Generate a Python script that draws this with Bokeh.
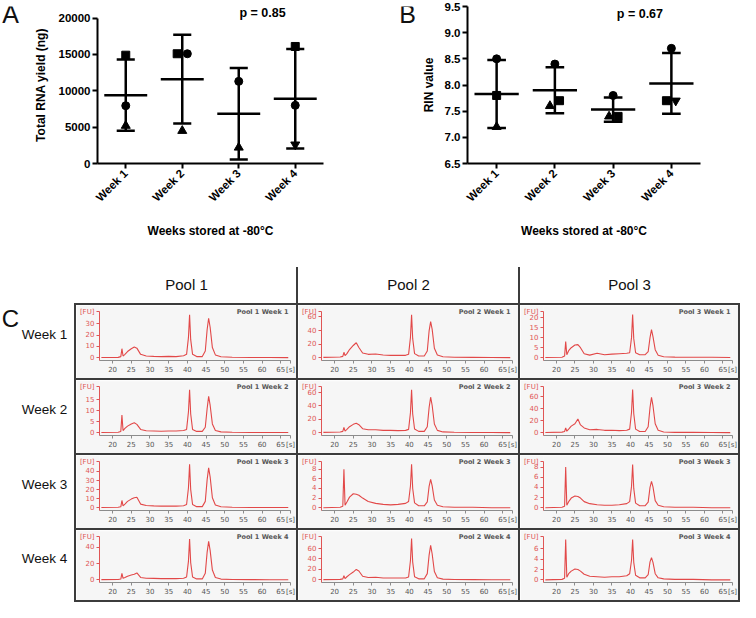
import numpy as np
from bokeh.plotting import figure
from bokeh.models import Range1d, FixedTicker, Label, Spacer, ColumnDataSource, PrintfTickFormatter
from bokeh.layouts import row, column
from bokeh.embed import file_html
from bokeh.resources import INLINE

# ---------------- data ----------------
WEEKS = ["Week 1", "Week 2", "Week 3", "Week 4"]
POOLS = ["Pool 1", "Pool 2", "Pool 3"]
WEEK_X = [1, 2, 3, 4]

A_CIRCLE = [7950, 15100, 11300, 8000]
A_SQUARE = [14900, 15100, np.nan, 16100]
A_TRIANGLE = [5200, 4500, 2200, 2600]
A_MEAN = [9400, 11600, 6850, 8900]
A_SD = [4900, 6100, 6300, 6850]
A_YTICKS = [0, 5000, 10000, 15000, 20000]
A_P = "p = 0.85"

B_CIRCLE = [8.5, 8.4, 7.8, 8.7]
B_SQUARE = [7.8, 7.7, 7.4, 7.7]
B_TRIANGLE = [7.2, 7.6, 7.4, 7.7]
B_MEAN = [7.83, 7.90, 7.53, 8.03]
B_SD = [0.65, 0.44, 0.23, 0.58]
B_YTICKS = [6.5, 7.0, 7.5, 8.0, 8.5, 9.0, 9.5]
B_P = "p = 0.67"

TIME_S = [17, 21.5, 22.2, 22.5, 22.8, 23.3, 24, 25, 25.8, 26.5, 27.5, 29, 31, 33, 35, 37, 39,
          39.8, 40.3, 40.6, 40.9, 41.4, 42.5, 44, 44.8, 45.3, 45.7, 46.1, 46.7, 47.5, 49, 52, 57, 62, 67]
X_TICKS = [20, 25, 30, 35, 40, 45, 50, 55, 60, 65]
X_UNIT = "[s]"
Y_UNIT = "[FU]"

FU_P1_W1 = [0.2, 0.3, 1.0, 8.0, 1.5, 3.0, 5.5, 8.0, 9.5, 8.5, 3.0, 1.5, 1.2, 1.0, 1.2, 1.0, 1.8, 3.0, 18, 38, 16, 3.0, 1.0, 1.0, 6.0, 25, 35, 27, 9.0, 2.5, 0.8, 0.4, 0.2, 0.2, 0.1]
FU_P2_W1 = [0.5, 1.0, 2.0, 8.0, 3.0, 6.0, 12, 18, 22, 15, 7.0, 5.0, 5.5, 4.0, 3.5, 3.5, 3.5, 5.0, 30, 63, 28, 6.0, 2.5, 2.5, 10, 40, 53, 42, 14, 4.0, 1.5, 0.8, 0.5, 0.3, 0.2]
FU_P3_W1 = [0.1, 0.2, 0.8, 8.0, 1.5, 3.5, 5.0, 6.3, 6.5, 5.0, 2.0, 1.3, 2.2, 1.5, 1.8, 2.0, 2.2, 2.5, 10, 21.5, 9.5, 2.5, 1.5, 1.5, 3.0, 10, 14, 10.5, 4.0, 1.2, 0.5, 0.3, 0.2, 0.2, 0.1]
FU_P1_W2 = [0.1, 0.2, 0.6, 8.0, 1.0, 2.0, 3.0, 4.0, 4.5, 3.8, 1.5, 0.9, 0.8, 0.7, 0.8, 0.8, 1.0, 1.5, 9.5, 19.5, 8.5, 1.5, 0.6, 0.6, 2.5, 11, 16.5, 12.5, 4.0, 1.0, 0.4, 0.2, 0.1, 0.1, 0.1]
FU_P2_W2 = [0.5, 1.0, 2.0, 8.0, 2.5, 5.0, 9.0, 12.5, 14, 12, 6.0, 4.5, 4.5, 3.5, 3.5, 3.2, 3.5, 5.0, 30, 64, 28, 5.5, 2.0, 2.0, 9.0, 38, 53, 41, 13, 3.5, 1.2, 0.6, 0.4, 0.3, 0.2]
FU_P3_W2 = [0.5, 1.0, 2.0, 8.0, 2.5, 6.0, 11, 15, 23, 13, 8.0, 5.0, 5.5, 4.0, 4.0, 3.5, 4.0, 6.0, 34, 72, 32, 6.0, 2.0, 2.0, 10, 42, 59, 45, 15, 4.0, 1.2, 0.6, 0.8, 0.3, 0.2]
FU_P1_W3 = [0.2, 0.5, 1.0, 8.0, 2.0, 4.0, 7.0, 9.5, 11, 11.5, 4.0, 2.5, 2.0, 1.8, 1.8, 1.8, 2.2, 3.5, 22, 48, 20, 3.5, 1.2, 1.2, 7.0, 31, 44, 34, 11, 3.0, 1.0, 0.5, 0.3, 0.2, 0.2]
FU_P2_W3 = [0.0, 0.1, 0.3, 8.0, 0.5, 1.2, 2.2, 2.9, 2.8, 2.6, 2.0, 1.3, 0.9, 0.7, 0.6, 0.7, 0.9, 1.3, 4.5, 9.0, 4.0, 1.0, 0.4, 0.4, 1.2, 4.5, 5.9, 4.6, 1.6, 0.5, 0.2, 0.1, 0.1, 0.0, 0.0]
FU_P3_W3 = [0.0, 0.1, 0.3, 8.0, 0.5, 1.2, 1.9, 2.3, 2.2, 1.9, 1.2, 0.8, 0.6, 0.5, 0.5, 0.6, 0.8, 1.2, 4.2, 8.5, 3.8, 0.9, 0.4, 0.4, 1.1, 4.0, 5.2, 4.1, 1.4, 0.5, 0.2, 0.1, 0.1, 0.0, 0.0]
FU_P1_W4 = [0.3, 0.5, 1.0, 8.0, 2.0, 3.0, 4.5, 6.0, 7.0, 8.5, 3.0, 2.0, 1.8, 1.5, 1.5, 1.5, 2.0, 3.5, 23, 50, 21, 3.5, 1.2, 1.2, 8.0, 34, 47, 36, 12, 3.0, 1.0, 0.5, 0.3, 0.2, 0.2]
FU_P2_W4 = [0.5, 1.0, 2.0, 8.0, 2.5, 6.0, 10, 15, 20, 17, 7.0, 4.5, 5.0, 3.5, 3.5, 3.5, 3.5, 5.5, 37, 79, 34, 6.0, 2.0, 2.0, 12, 48, 66, 50, 16, 4.0, 1.5, 0.7, 0.5, 0.3, 0.2]
FU_P3_W4 = [0.0, 0.1, 0.3, 7.8, 0.5, 1.2, 1.7, 2.1, 2.0, 1.7, 1.1, 0.7, 0.6, 0.5, 0.6, 0.6, 0.8, 1.2, 3.8, 7.8, 3.4, 0.9, 0.4, 0.4, 1.0, 3.5, 4.3, 3.4, 1.2, 0.4, 0.2, 0.1, 0.1, 0.0, 0.0]

FU_TICKS_P1 = [[0, 10, 20, 30], [0, 5, 10, 15], [0, 10, 20, 30, 40], [0, 20, 40]]
FU_TICKS_P2 = [[0, 20, 40, 60], [0, 20, 40, 60], [0, 2, 4, 6, 8], [0, 20, 40, 60]]
FU_TICKS_P3 = [[0, 5, 10, 15, 20], [0, 20, 40, 60], [0, 2, 4, 6, 8], [0, 2, 4, 6]]

# ---------------- style ----------------
TRI_MARKERS = ["triangle", "triangle", "triangle", "inverted_triangle"]
A_JITTER = {"circle": [0, 0.09, 0, 0], "square": [0, -0.09, 0, 0], "triangle": [0, 0, 0, 0]}
B_JITTER = {"circle": [0, 0, 0, 0], "square": [0, 0.08, 0.085, -0.085], "triangle": [0, -0.085, -0.07, 0.075]}
FU_TOP_P1 = [41, 21, 51, 53]
FU_TOP_P2 = [68, 69, 9.6, 83]
FU_TOP_P3 = [23, 77, 9.1, 8.4]
X_END = 67.6

FONT = "Liberation Sans"
RED = "#e05555"
TRACE = "#e24848"
GRID = "#3c3c3c"
CELL_BG = "#f6f6f6"

TRACES = {
    ("Pool 1", 0): FU_P1_W1, ("Pool 2", 0): FU_P2_W1, ("Pool 3", 0): FU_P3_W1,
    ("Pool 1", 1): FU_P1_W2, ("Pool 2", 1): FU_P2_W2, ("Pool 3", 1): FU_P3_W2,
    ("Pool 1", 2): FU_P1_W3, ("Pool 2", 2): FU_P2_W3, ("Pool 3", 2): FU_P3_W3,
    ("Pool 1", 3): FU_P1_W4, ("Pool 2", 3): FU_P2_W4, ("Pool 3", 3): FU_P3_W4,
}
TICKS = {"Pool 1": FU_TICKS_P1, "Pool 2": FU_TICKS_P2, "Pool 3": FU_TICKS_P3}
TOPS = {"Pool 1": FU_TOP_P1, "Pool 2": FU_TOP_P2, "Pool 3": FU_TOP_P3}


def text_fig(w, h, items):
    p = figure(width=w, height=h, x_range=Range1d(0, w), y_range=Range1d(0, h),
               output_backend="svg", toolbar_location=None, x_axis_type=None, y_axis_type=None,
               min_border=0, outline_line_color=None)
    p.grid.visible = False
    for (tx, ty, txt, size) in items:
        p.add_layout(Label(x=tx, y=ty, text=txt, text_align="center", text_baseline="middle",
                           text_font=FONT, text_font_size=size, text_color="#111111"))
    return p


def dot_panel(width, left, right, top, bottom, yr, ybounds, yticks, ytitle, circle, square, tri,
              mean, sd, jit, ptext, p_x, p_y, p_yoff, fmt=None, lab_stand=10):
    p = figure(width=width, height=240, x_range=Range1d(0.5, 4.5), y_range=yr,
               output_backend="svg", toolbar_location=None,
               min_border_left=left, min_border_right=right, min_border_top=top,
               min_border_bottom=bottom, outline_line_color=None)
    p.grid.visible = False
    x = np.array(WEEK_X, dtype=float)
    m = np.array(mean, dtype=float)
    s = np.array(sd, dtype=float)
    kw = dict(line_color="black", line_width=2.5)
    p.segment(x0=x, y0=m - s, x1=x, y1=m + s, **kw)
    p.segment(x0=x - 0.16, y0=m + s, x1=x + 0.16, y1=m + s, **kw)
    p.segment(x0=x - 0.16, y0=m - s, x1=x + 0.16, y1=m - s, **kw)
    p.segment(x0=x - 0.38, y0=m, x1=x + 0.38, y1=m, **kw)
    p.scatter(x + np.array(jit["circle"]), circle, marker="circle", size=8, color="black")
    p.scatter(x + np.array(jit["square"]), square, marker="square", size=8, color="black")
    src = ColumnDataSource(dict(x=x + np.array(jit["triangle"]), y=tri, mk=TRI_MARKERS))
    p.scatter("x", "y", marker="mk", size=9, color="black", source=src)

    for ax in (p.xaxis[0], p.yaxis[0]):
        ax.axis_line_width = 2
        ax.major_tick_line_width = 2
        ax.major_tick_out = 5
        ax.major_tick_in = 0
        ax.minor_tick_line_color = None
        ax.major_label_text_font = FONT
        ax.major_label_text_font_style = "bold"
        ax.major_label_text_font_size = "11.5px"
        ax.major_label_text_color = "black"
        ax.axis_label_text_font = FONT
        ax.axis_label_text_font_style = "bold"
        ax.axis_label_text_font_size = "12px"
        ax.axis_label_text_color = "black"
    xa = p.xaxis[0]
    xa.ticker = FixedTicker(ticks=WEEK_X)
    xa.major_label_overrides = {wx: w for wx, w in zip(WEEK_X, WEEKS)}
    xa.major_label_orientation = np.pi / 4
    xa.major_label_standoff = 3
    xa.axis_label = "Weeks stored at -80°C"
    xa.axis_label_standoff = 13
    ya = p.yaxis[0]
    ya.ticker = FixedTicker(ticks=yticks)
    ya.bounds = ybounds
    ya.major_label_standoff = 2
    ya.axis_label = ytitle
    ya.axis_label_standoff = lab_stand
    if fmt is not None:
        ya.formatter = fmt
    p.add_layout(Label(x=p_x, y=p_y, y_offset=p_yoff, text=ptext, text_align="center",
                       text_baseline="middle", text_font=FONT, text_font_style="bold",
                       text_font_size="12.5px", text_color="black"))
    return p


pA = dot_panel(348, 75, 47, 6, 72, Range1d(0, 21600), (0, 20000), A_YTICKS, "Total RNA yield (ng)",
               A_CIRCLE, A_SQUARE, A_TRIANGLE, A_MEAN, A_SD, A_JITTER, A_P, 3.42, 20000, 4.7,
               lab_stand=8)
pB = dot_panel(322, 46, 40, 5, 76, Range1d(6.5, 9.5), (6.5, 9.5), B_YTICKS, "RIN value",
               B_CIRCLE, B_SQUARE, B_TRIANGLE, B_MEAN, B_SD, B_JITTER, B_P, 3.46, 9.5, -7.7,
               fmt=PrintfTickFormatter(format="%.1f"), lab_stand=6)
letterA = text_fig(22, 240, [(10, 228, "A", "25px")])
letterB = text_fig(48, 240, [(37, 228, "B", "25px")])


def trace_panel(w, h, fu, ticks, top, title):
    frame_h = h - 1 - 18
    span = 1.06 * top
    ystart = -0.06 * top
    yend = top + 5 * span / (frame_h - 5)
    yr = Range1d(ystart, yend)
    p = figure(width=w, height=h, x_range=Range1d(16.5, X_END), y_range=yr,
               output_backend="svg", toolbar_location=None,
               min_border_left=22, min_border_right=6, min_border_top=1, min_border_bottom=18,
               background_fill_color=CELL_BG, border_fill_color=CELL_BG, outline_line_color=None)
    p.grid.visible = False
    p.line(TIME_S, fu, line_color=TRACE, line_width=1.1)
    xa = p.xaxis[0]
    ya = p.yaxis[0]
    xa.ticker = FixedTicker(ticks=X_TICKS + [X_END])
    xa.major_label_overrides = {X_END: X_UNIT}
    ya.ticker = FixedTicker(ticks=list(ticks) + [top])
    ya.major_label_overrides = {top: Y_UNIT}
    ya.bounds = (ystart, top)
    for ax in (xa, ya):
        ax.major_tick_out = 3
        ax.major_tick_in = 0
        ax.minor_tick_line_color = None
        ax.major_label_standoff = 2
        ax.major_label_text_font = "DejaVu Sans"
        ax.major_label_text_font_size = "7px"
    xa.axis_line_color = "#8c8c8c"
    xa.major_tick_line_color = "#8c8c8c"
    xa.major_label_text_color = "#555555"
    ya.axis_line_color = RED
    ya.major_tick_line_color = RED
    ya.major_label_text_color = RED
    p.add_layout(Label(x=X_END, y=yend, x_offset=-2, y_offset=-1, text=title, text_align="right",
                       text_baseline="top", text_font="DejaVu Sans", text_font_style="bold",
                       text_font_size="6.5px", text_color="#555555"))
    return p


def bar(w, h):
    return Spacer(width=w, height=h, styles={"background-color": GRID})


LEFT_W = 74
CELL_W = [220, 220, 218]
ROW_H = [73, 73, 73, 70]
HEAD_H = 63
GRID_W = 2 + CELL_W[0] + 2 + CELL_W[1] + 2 + CELL_W[2] + 2

hdr1 = text_fig(2 + CELL_W[0], HEAD_H, [(2 + CELL_W[0] / 2, 19, POOLS[0], "15px")])
hdr2 = text_fig(CELL_W[1], HEAD_H, [(CELL_W[1] / 2, 19, POOLS[1], "15px")])
hdr3 = text_fig(CELL_W[2] + 2, HEAD_H, [(CELL_W[2] / 2, 19, POOLS[2], "15px")])


def head_sep():
    return column(Spacer(width=2, height=27), bar(2, HEAD_H - 27))


header = row(Spacer(width=LEFT_W, height=HEAD_H), hdr1, head_sep(), hdr2, head_sep(), hdr3)


def hline():
    return row(Spacer(width=LEFT_W, height=2), bar(GRID_W, 2))


rows = [header, hline()]
for wi, week in enumerate(WEEKS):
    h = ROW_H[wi]
    items = [(44, h / 2 - 2, week, "13.5px")]
    if wi == 0:
        items.append((10, h - 16, "C", "24px"))
    left = text_fig(LEFT_W, h, items)
    cells = []
    for pi, pool in enumerate(POOLS):
        cells.append(trace_panel(CELL_W[pi], h, TRACES[(pool, wi)], TICKS[pool][wi],
                                 TOPS[pool][wi], f"{pool} {week}"))
    rows.append(row(left, bar(2, h), cells[0], bar(2, h), cells[1], bar(2, h), cells[2], bar(2, h)))
    rows.append(hline())

layout = column(row(letterA, pA, letterB, pB), *rows)

open("out.html", "w").write(file_html(layout, INLINE))
